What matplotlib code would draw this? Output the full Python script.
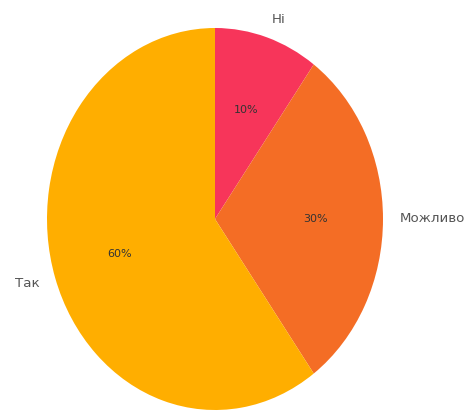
import matplotlib
matplotlib.use("Agg")
import matplotlib.pyplot as plt

# ---------- data ----------
labels = ["Ні", "Можливо", "Так"]
shares = [10, 30, 60]
colors = ["#F7355A", "#F46D25", "#FFAE00"]
title = "Чи порекомендуєте ви наш продукт друзям?"

# ---------- plot ----------
fig = plt.figure(figsize=(4.65, 4.12), dpi=100)
W, H = 465, 412
ax = fig.add_axes([47 / W, 2 / H, 336 / W, 382 / H])

wedges, texts, autotexts = ax.pie(
    shares, labels=labels, colors=colors, startangle=90, counterclock=False,
    autopct="%1.0f%%", pctdistance=0.6, labeldistance=1.1,
    textprops={"fontsize": 9.6, "color": "#555555"},
    wedgeprops={"linewidth": 0},
)
for t in autotexts:
    t.set_fontsize(8)
    t.set_color("#333333")

ax.set_xlim(-1, 1)
ax.set_ylim(-1, 1)
ax.set_aspect("auto")
ax.axis("off")
for w in wedges:
    w.set_clip_on(False)

# title sits above the canvas, only its descenders show
fig.text(215 / W, 1 + 4 / H, title, ha="center", va="baseline",
         fontsize=12, color="#333333")

fig.savefig("out.png", dpi=100)
